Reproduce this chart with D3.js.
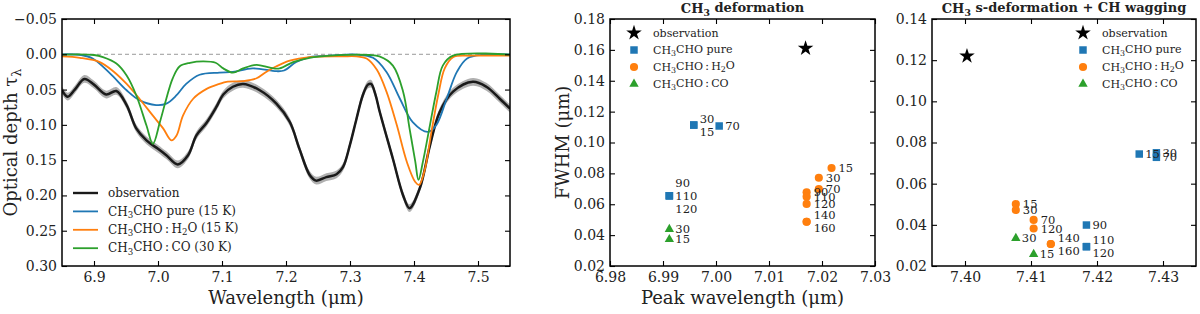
<!DOCTYPE html>
<html><head><meta charset="utf-8">
<script src="https://cdn.jsdelivr.net/npm/d3@7"></script>
<style>
html,body{margin:0;padding:0;background:#fff;}
svg{display:block;}
text{font-family:"DejaVu Serif",serif;fill:#222;}
</style></head>
<body>
<svg id="chart" width="1200" height="314"></svg>
<script>
// ---------------- DATA ----------------
// Left panel: optical depth spectra
const obsWave = [6.85,6.859,6.87,6.885,6.9,6.919,6.935,6.951,6.966,6.982,7.0,7.013,7.031,7.047,7.06,7.076,7.091,7.102,7.117,7.133,7.159,7.185,7.206,7.221,7.237,7.247,7.263,7.279,7.289,7.3,7.31,7.32,7.328,7.333,7.34,7.346,7.367,7.383,7.393,7.409,7.425,7.44,7.461,7.492,7.513,7.534,7.55];
const obsTau  = [0.051,0.060,0.050,0.035,0.043,0.057,0.052,0.072,0.105,0.122,0.134,0.143,0.156,0.143,0.115,0.097,0.075,0.057,0.046,0.042,0.051,0.070,0.096,0.134,0.171,0.179,0.174,0.170,0.160,0.128,0.092,0.058,0.043,0.042,0.058,0.080,0.148,0.200,0.218,0.190,0.129,0.082,0.053,0.039,0.046,0.063,0.077];
const obsErr = 0.0055;

const pureWave = [6.85,6.88,6.898,6.925,6.951,6.971,6.997,7.013,7.029,7.044,7.065,7.096,7.117,7.148,7.185,7.197,7.216,7.237,7.27,7.31,7.336,7.357,7.378,7.398,7.422,7.435,7.451,7.467,7.483,7.51,7.55];
const pureTau  = [0,0.001,0.006,0.027,0.051,0.065,0.072,0.070,0.058,0.042,0.029,0.026,0.025,0.020,0.024,0.023,0.011,0.004,0.002,0.0005,0.005,0.025,0.063,0.096,0.110,0.100,0.063,0.025,0.006,0.0005,0];

const h2oWave = [6.85,6.878,6.909,6.93,6.951,6.971,6.992,7.008,7.021,7.029,7.039,7.055,7.076,7.096,7.107,7.133,7.154,7.169,7.185,7.206,7.237,7.289,7.31,7.326,7.342,7.357,7.373,7.389,7.402,7.408,7.417,7.427,7.438,7.448,7.461,7.49,7.55];
const h2oTau  = [0.003,0.005,0.011,0.024,0.042,0.063,0.087,0.105,0.122,0.115,0.087,0.063,0.049,0.042,0.039,0.038,0.034,0.025,0.017,0.009,0.004,0.003,0.003,0.006,0.022,0.053,0.100,0.153,0.181,0.185,0.163,0.111,0.057,0.020,0.004,0.002,0.002];

const coWave = [6.85,6.9,6.914,6.935,6.951,6.966,6.982,6.992,7.003,7.013,7.023,7.034,7.05,7.071,7.09,7.102,7.117,7.133,7.154,7.175,7.19,7.211,7.237,7.27,7.33,7.346,7.367,7.383,7.393,7.402,7.407,7.414,7.425,7.435,7.445,7.461,7.55];
const coTau  = [0.0005,0.001,0.004,0.013,0.030,0.058,0.101,0.127,0.096,0.063,0.034,0.017,0.012,0.010,0.012,0.020,0.026,0.020,0.015,0.019,0.020,0.011,0.005,0.002,0.001,0.003,0.016,0.053,0.105,0.152,0.178,0.152,0.100,0.053,0.016,0.002,0.0005];

const leftLegend = ["observation","CH_3CHO pure (15 K)","CH_3CHO\u2009:\u2009H_2O (15 K)","CH_3CHO\u2009:\u2009CO (30 K)"];
const leftXTicks = [6.9,7.0,7.1,7.2,7.3,7.4,7.5];
const leftYTicks = [-0.05,0,0.05,0.10,0.15,0.20,0.25,0.30];

// Middle panel: CH3 deformation
const midObsWave = [7.0169], midObsFwhm = [0.161];
const midPureTemps = [30,15,70,90,110,120];
const midPureWave  = [6.9958,6.9958,7.0006,6.9912,6.9912,6.9912];
const midPureFwhm  = [0.1113,0.1113,0.1107,0.0655,0.0655,0.0655];
const midH2OTemps = [15,30,70,90,110,120,140,160];
const midH2OWave  = [7.0218,7.0194,7.0194,7.0171,7.0171,7.0171,7.0171,7.0171];
const midH2OFwhm  = [0.0835,0.0772,0.0699,0.0677,0.0649,0.0602,0.0487,0.0487];
const midCOTemps = [30,15];
const midCOWave  = [6.9912,6.9912];
const midCOFwhm  = [0.0438,0.0373];
const midXTicks = [6.98,6.99,7.00,7.01,7.02,7.03];
const midYTicks = [0.02,0.04,0.06,0.08,0.10,0.12,0.14,0.16,0.18];

// Right panel: CH3 s-deformation + CH wagging
const rObsWave = [7.4003], rObsFwhm = [0.122];
const rPureTemps = [15,30,70,90,110,120];
const rPureWave  = [7.4264,7.4290,7.4290,7.4184,7.4184,7.4184];
const rPureFwhm  = [0.0744,0.0750,0.0728,0.0399,0.0294,0.0294];
const rH2OTemps = [15,30,70,120,140,160];
const rH2OWave  = [7.4077,7.4077,7.4104,7.4104,7.4130,7.4130];
const rH2OFwhm  = [0.0501,0.0472,0.0424,0.0382,0.0307,0.0307];
const rCOTemps = [30,15];
const rCOWave  = [7.4077,7.4104];
const rCOFwhm  = [0.0335,0.0257];
const rXTicks = [7.40,7.41,7.42,7.43];
const rYTicks = [0.02,0.04,0.06,0.08,0.10,0.12,0.14];

const scatterLegend = ["observation","CH_3CHO pure","CH_3CHO\u2009:\u2009H_2O","CH_3CHO\u2009:\u2009CO"];

// ---------------- DRAWING ----------------
const C = {blue:"#1f77b4", orange:"#ff7f0e", green:"#2ca02c", obs:"#1a1a1a"};
const svg = d3.select("#chart");

function rich(sel, str){
  const parts = [];
  let buf = "";
  for (let i=0;i<str.length;i++){
    if (str[i]==="_" && i+1<str.length){ if(buf) parts.push([buf,0]); buf=""; parts.push([str[i+1],1]); i++; }
    else buf += str[i];
  }
  if (buf) parts.push([buf,0]);
  let prevSub = 0;
  parts.forEach(([t,s])=>{
    const ts = sel.append("tspan").text(t);
    if (s && !prevSub) ts.attr("dy","0.28em").attr("font-size","0.72em");
    else if (s) ts.attr("font-size","0.72em");
    else if (!s && prevSub) ts.attr("dy","-0.28em");
    prevSub = s;
  });
  return sel;
}

function frame(g, x, y, xTicks, yTicks, xFmt, yFmt){
  const [x0,x1] = x.range(), [y0,y1] = y.range();
  const bottom = Math.max(y0,y1), top = Math.min(y0,y1);
  const gx = g.append("g").attr("transform",`translate(0,${bottom})`)
    .call(d3.axisBottom(x).tickValues(xTicks).tickFormat(xFmt).tickSizeInner(-5).tickSizeOuter(0).tickPadding(6));
  const gxt = g.append("g").attr("transform",`translate(0,${top})`)
    .call(d3.axisTop(x).tickValues(xTicks).tickFormat("").tickSizeInner(-5).tickSizeOuter(0));
  const gy = g.append("g").attr("transform",`translate(${x0},0)`)
    .call(d3.axisLeft(y).tickValues(yTicks).tickFormat(yFmt).tickSizeInner(-5).tickSizeOuter(0).tickPadding(5));
  const gyr = g.append("g").attr("transform",`translate(${x1},0)`)
    .call(d3.axisRight(y).tickValues(yTicks).tickFormat("").tickSizeInner(-5).tickSizeOuter(0));
  [gx,gxt,gy,gyr].forEach(a=>{
    a.select(".domain").remove();
    a.selectAll(".tick line").attr("stroke","#000").attr("stroke-width",1.1);
    a.selectAll(".tick text").attr("font-family","DejaVu Serif, serif").attr("font-size",14).attr("fill","#222");
  });
  g.append("rect").attr("x",x0).attr("y",top).attr("width",x1-x0).attr("height",bottom-top)
    .attr("fill","none").attr("stroke","#000").attr("stroke-width",1.5);
}

// ----- Left panel -----
{
  const x = d3.scaleLinear().domain([6.85,7.55]).range([62,510]);
  const y = d3.scaleLinear().domain([-0.05,0.30]).range([19,266]);
  const g = svg.append("g");
  const clipId = "clipL";
  g.append("clipPath").attr("id",clipId).append("rect").attr("x",62).attr("y",19).attr("width",448).attr("height",247);
  const pg = g.append("g").attr("clip-path",`url(#${clipId})`);
  pg.append("line").attr("x1",x(6.85)).attr("x2",x(7.55)).attr("y1",y(0)).attr("y2",y(0))
    .attr("stroke","#999").attr("stroke-width",1).attr("stroke-dasharray","4,3");
  const curve = d3.curveCatmullRom.alpha(0.5);
  const obs = obsWave.map((w,i)=>({w,t:obsTau[i]}));
  pg.append("path").datum(obs).attr("fill","#b0b0b0")
    .attr("d", d3.area().x(d=>x(d.w)).y0(d=>y(d.t-obsErr)).y1(d=>y(d.t+obsErr)).curve(curve));
  const line = d3.line().x(d=>x(d.w)).y(d=>y(d.t)).curve(curve);
  pg.append("path").datum(obs).attr("fill","none").attr("stroke",C.obs).attr("stroke-width",2.5).attr("d",line);
  [[pureWave,pureTau,C.blue],[h2oWave,h2oTau,C.orange],[coWave,coTau,C.green]].forEach(([W,T,c])=>{
    pg.append("path").datum(W.map((w,i)=>({w,t:T[i]}))).attr("fill","none").attr("stroke",c).attr("stroke-width",1.8).attr("d",line);
  });
  frame(g, x, y, leftXTicks, leftYTicks, d3.format(".1f"), d=>d3.format(".2f")(d).replace("-","\u2212"));
  const lc = [C.obs,C.blue,C.orange,C.green];
  leftLegend.forEach((s,i)=>{
    const yy = 193 + i*18.4;
    g.append("line").attr("x1",73).attr("x2",98).attr("y1",yy).attr("y2",yy).attr("stroke",lc[i]).attr("stroke-width",i===0?2.4:1.8);
    rich(g.append("text").attr("x",108).attr("y",yy).attr("dy","0.35em").attr("font-size",12), s);
  });
  g.append("text").attr("x",286).attr("y",304).attr("text-anchor","middle").attr("font-size",18).text("Wavelength (\u03bcm)");
  const yl = g.append("text").attr("transform","translate(17,142.5) rotate(-90)").attr("text-anchor","middle").attr("font-size",18);
  yl.append("tspan").text("Optical depth \u03c4");
  yl.append("tspan").attr("dy","0.28em").attr("font-size","0.72em").text("\u03bb");
}

// ----- Scatter panels -----
function scatterPanel(opt){
  const x = d3.scaleLinear().domain(opt.xd).range(opt.xr);
  const y = d3.scaleLinear().domain(opt.yd).range([266,19]);
  const g = svg.append("g");
  frame(g, x, y, opt.xTicks, opt.yTicks, d3.format(".2f"), d3.format(".2f"));
  const mk = {
    star: d3.symbol().type(d3.symbolStar).size(75),
    square: d3.symbol().type(d3.symbolSquare).size(56),
    circle: d3.symbol().type(d3.symbolCircle).size(52),
    tri: d3.symbol().type(d3.symbolTriangle).size(38)
  };
  const series = [
    {W:opt.pure[1], F:opt.pure[2], T:opt.pure[0], c:C.blue, m:"square"},
    {W:opt.h2o[1],  F:opt.h2o[2],  T:opt.h2o[0],  c:C.orange, m:"circle"},
    {W:opt.co[1],   F:opt.co[2],   T:opt.co[0],   c:C.green, m:"tri"}
  ];
  g.append("path").attr("d",mk.star()).attr("fill","#000")
    .attr("transform",`translate(${x(opt.obs[0][0])},${y(opt.obs[1][0])})`);
  const labels = [];
  series.forEach(s=>{
    s.W.forEach((w,i)=>{
      const px = x(w), py = y(s.F[i]);
      g.append("path").attr("d",mk[s.m]()).attr("fill",s.c).attr("transform",`translate(${px},${py})`);
      labels.push({px,py,t:s.T[i],r:s.m==="circle"?7:6});
    });
  });
  const groups = d3.groups(labels, d=>Math.round(d.px)+"_"+Math.round(d.py));
  groups.forEach(([k,arr])=>{
    const n = arr.length;
    arr.forEach((d,j)=>{
      const yy = d.py + (j-(n-1)/2)*13;
      g.append("text").attr("x",d.px+d.r).attr("y",yy).attr("dy","0.35em").attr("font-size",11.5).text(d.t);
    });
  });
  const lm = ["star","square","circle","tri"], lcol = ["#000",C.blue,C.orange,C.green];
  scatterLegend.forEach((s,i)=>{
    const yy = 33 + i*17;
    g.append("path").attr("d",mk[lm[i]]()).attr("fill",lcol[i])
      .attr("transform",`translate(${opt.legX},${yy})`);
    rich(g.append("text").attr("x",opt.legX+19).attr("y",yy).attr("dy","0.35em").attr("font-size",11), s);
  });
  const tt = g.append("text").attr("x",(opt.xr[0]+opt.xr[1])/2).attr("y",13).attr("text-anchor","middle")
    .attr("font-size",13).attr("font-weight","bold");
  rich(tt, opt.title);
  return g;
}

const gm = scatterPanel({
  xd:[6.98,7.03], xr:[610,875], yd:[0.02,0.18],
  xTicks:midXTicks, yTicks:midYTicks,
  obs:[midObsWave,midObsFwhm],
  pure:[midPureTemps,midPureWave,midPureFwhm],
  h2o:[midH2OTemps,midH2OWave,midH2OFwhm],
  co:[midCOTemps,midCOWave,midCOFwhm],
  legX:634, title:"CH_3 deformation"
});
gm.append("text").attr("x",742.5).attr("y",304).attr("text-anchor","middle").attr("font-size",18).text("Peak wavelength (\u03bcm)");
gm.append("text").attr("transform","translate(569,142.5) rotate(-90)").attr("text-anchor","middle").attr("font-size",18).text("FWHM (\u03bcm)");

scatterPanel({
  xd:[7.395,7.435], xr:[932,1196], yd:[0.02,0.14],
  xTicks:rXTicks, yTicks:rYTicks,
  obs:[rObsWave,rObsFwhm],
  pure:[rPureTemps,rPureWave,rPureFwhm],
  h2o:[rH2OTemps,rH2OWave,rH2OFwhm],
  co:[rCOTemps,rCOWave,rCOFwhm],
  legX:1083, title:"CH_3 s-deformation + CH wagging"
});
</script>
</body></html>
